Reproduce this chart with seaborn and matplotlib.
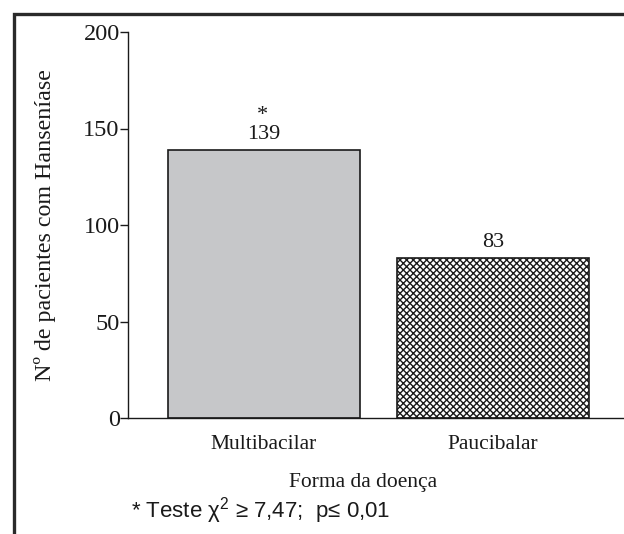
import matplotlib
matplotlib.use("Agg")
import matplotlib.pyplot as plt
import seaborn as sns
import pandas as pd
from matplotlib.patches import Rectangle

categories = ["Multibacilar", "Paucibalar"]
values = [139, 83]
value_labels = ["139", "83"]
ylabel = "Nº de pacientes com Hanseníase"
xlabel = "Forma da doença"
footnote = "* Teste χ$^{2}$ ≥ 7,47;  p≤ 0,01"

df = pd.DataFrame({"forma": categories, "n": values})

sns.set_style("ticks")
plt.rcParams["font.family"] = ["Liberation Serif", "DejaVu Serif"]
plt.rcParams["mathtext.fontset"] = "custom"
plt.rcParams["mathtext.rm"] = "Liberation Sans"
plt.rcParams["mathtext.it"] = "Liberation Sans"
plt.rcParams["hatch.linewidth"] = 1.0

fig = plt.figure(figsize=(6.24, 5.34), dpi=100)
ax = fig.add_axes([128/624, 1-418/534, 1-128/624, (418-32)/534])

sns.barplot(data=df, x="forma", y="n", ax=ax, width=0.84, order=categories,
            edgecolor="#1a1a1a", linewidth=1.2)
bars = ax.patches
bars[0].set_facecolor("#c6c7c9")
bars[1].set_facecolor("white")
bars[1].set_hatch("xxxxx")

ax.set_ylim(0, 200)
ax.set_xlim(-0.594, 1.572)
ax.set_yticks([0, 50, 100, 150, 200])
ax.tick_params(axis="y", direction="out", length=6, width=1, labelsize=17.5, pad=0, colors="#1a1a1a")
ax.tick_params(axis="x", length=0, labelsize=15.5, pad=12, colors="#1a1a1a")
sns.despine(ax=ax)
for s in ["left", "bottom"]:
    ax.spines[s].set_linewidth(1.0)
    ax.spines[s].set_color("#1a1a1a")

ax.set_ylabel(ylabel, fontsize=17.3, labelpad=20, color="#1a1a1a")
ax.set_xlabel(xlabel, fontsize=15.5, color="#1a1a1a")
ax.xaxis.set_label_coords((363-128)/(624-128), -0.142)

for i, (v, t) in enumerate(zip(values, value_labels)):
    ax.annotate(t, (i, v), xytext=(0, 4), textcoords="offset points",
                ha="center", va="bottom", fontsize=16, color="#1a1a1a")
ax.annotate("*", (0, values[0]), xytext=(-1, 18), textcoords="offset points",
            ha="center", va="bottom", fontsize=16, color="#1a1a1a")

fig.text(131/624, 1-511/534, footnote, fontsize=16, family=["Liberation Sans", "DejaVu Sans"],
         ha="left", va="center", color="#1a1a1a")

fig.patches.append(Rectangle((14/624, -0.05), 1.2, 1-14/534+0.05, transform=fig.transFigure,
                             fill=False, edgecolor="#2a2a2a", linewidth=2.4, zorder=10))

fig.savefig("out.png", dpi=100)
